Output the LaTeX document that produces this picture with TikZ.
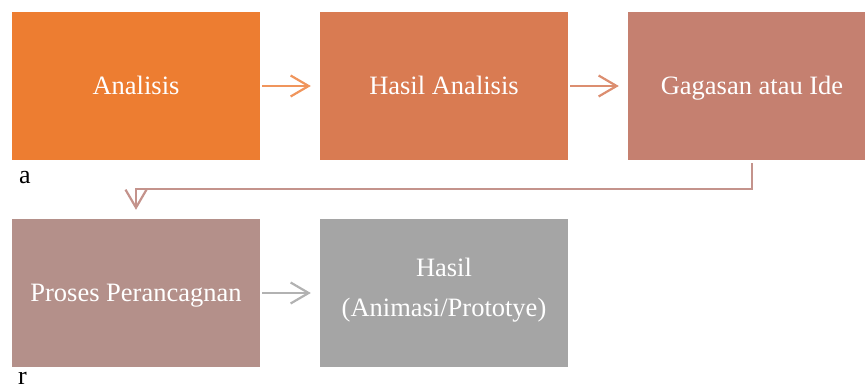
\documentclass[tikz,border=0pt]{standalone}
\usepackage{fontspec}
\setmainfont{Liberation Serif}
\usepackage{xcolor}
\usepackage{tikz}
\usetikzlibrary{calc,positioning,arrows.meta}
\definecolor{StepA}{HTML}{ED7D31}
\definecolor{StepB}{HTML}{D97B52}
\definecolor{StepC}{HTML}{C58070}
\definecolor{StepD}{HTML}{B4908A}
\definecolor{StepE}{HTML}{A5A5A5}
\definecolor{LinkA}{HTML}{F0955C}
\definecolor{LinkB}{HTML}{DC8E70}
\definecolor{LinkC}{HTML}{C4938C}
\definecolor{LinkD}{HTML}{B2B2B2}

\begin{document}
\begin{tikzpicture}[
  x=1pt,y=-1pt,
  stepbox/.style={fill=#1,draw=none,minimum width=248pt,minimum height=148pt,inner sep=0pt,align=center,font=\fontsize{26.5}{40}\selectfont,text=white,execute at begin node=\strut},
  link/.style={-{Straight Barb[length=18pt,width=21pt,line width=2.2pt]},line width=2.2pt,draw=#1,shorten <=2pt,shorten >=9pt},
  letternote/.style={font=\fontsize{26}{30}\selectfont,text=black,inner sep=0pt,anchor=base west}
]
\useasboundingbox (0,0) rectangle (865,388);
\node[stepbox=StepA] (analisis) at (136,86) {Analisis};
\node[stepbox=StepB] (hasilan) at (444,86) {Hasil Analisis};
\node[stepbox=StepC] (ide) at (752,86) {Gagasan atau Ide};
\node[stepbox=StepD] (proses) at (136,293) {Proses Perancagnan};
\node[stepbox=StepE] (hasil) at (444,293) {Hasil\\\strut(Animasi/Prototye)};
\coordinate (turn) at (0,189);

\draw[link=LinkA] (analisis)--(hasilan);
\draw[link=LinkB] (hasilan)--(ide);
\draw[link=LinkC,shorten <=3pt] (ide.south)--(ide.south |- turn)-|(proses.north);
\draw[link=LinkD] (proses)--(hasil);

\node[letternote] (lettera) at (19,183) {a};
\node[letternote] (letterr) at (18,384) {r};
\end{tikzpicture}
\end{document}
